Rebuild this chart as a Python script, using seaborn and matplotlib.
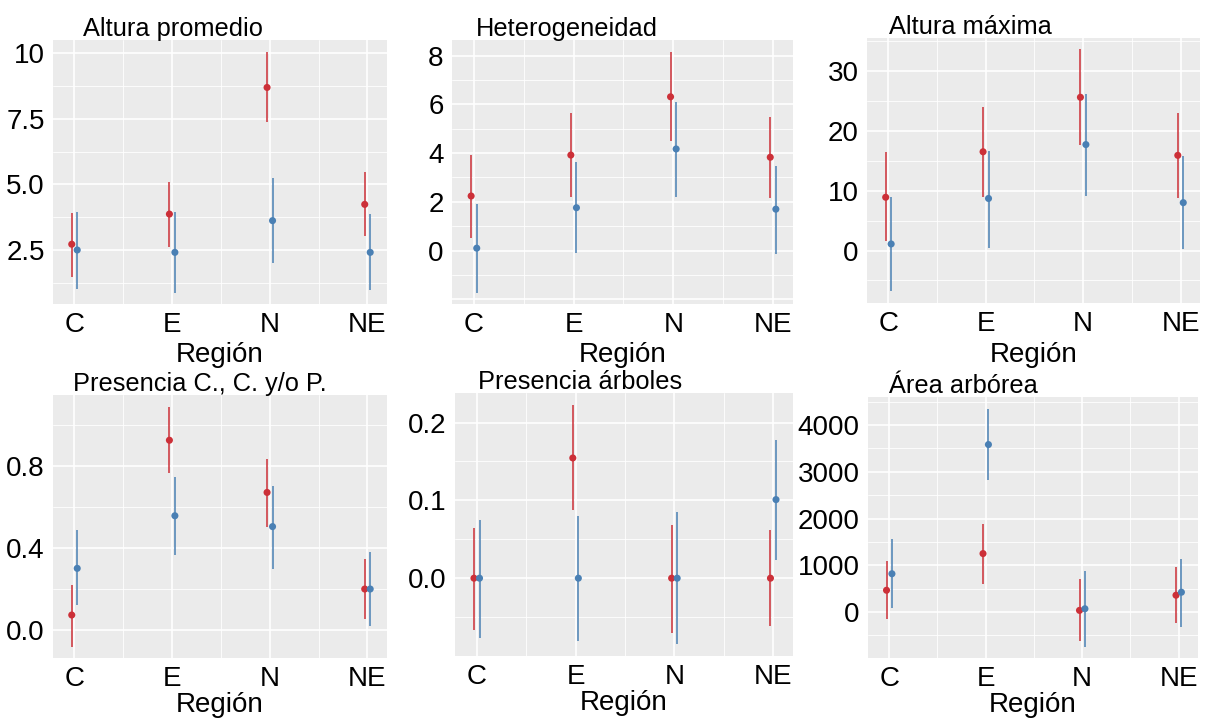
import numpy as np
import pandas as pd
import matplotlib
matplotlib.use('Agg')
import matplotlib.pyplot as plt
import seaborn as sns

# Categories
regions = ['C', 'E', 'N', 'NE']
groups = ['rojo', 'azul']

titles = ['Altura promedio', 'Heterogeneidad', 'Altura máxima',
          'Presencia C., C. y/o P.', 'Presencia árboles', 'Área arbórea']

# (mean, lower, upper) per region, for each panel and group
altura_prom_rojo = [(2.72, 1.48, 3.90), (3.87, 2.63, 5.11), (8.70, 7.37, 10.04), (4.24, 3.05, 5.47)]
altura_prom_azul = [(2.50, 1.01, 3.96), (2.41, 0.85, 3.96), (3.62, 1.99, 5.24), (2.41, 0.97, 3.88)]

hetero_rojo = [(2.24, 0.53, 3.92), (3.92, 2.21, 5.63), (6.31, 4.50, 8.13), (3.83, 2.15, 5.47)]
hetero_azul = [(0.10, -1.75, 1.91), (1.76, -0.11, 3.65), (4.17, 2.21, 6.11), (1.70, -0.14, 3.47)]

altura_max_rojo = [(8.9, 1.6, 16.4), (16.5, 8.9, 23.9), (25.6, 17.6, 33.6), (15.9, 8.7, 23.0)]
altura_max_azul = [(1.1, -6.8, 8.9), (8.7, 0.4, 16.6), (17.7, 9.1, 26.1), (8.0, 0.2, 15.8)]

pres_ccp_rojo = [(0.073, -0.081, 0.222), (0.927, 0.769, 1.087), (0.672, 0.502, 0.833), (0.200, 0.053, 0.348)]
pres_ccp_azul = [(0.301, 0.121, 0.486), (0.558, 0.367, 0.749), (0.505, 0.300, 0.704), (0.200, 0.021, 0.383)]

pres_arb_rojo = [(0.0, -0.066, 0.064), (0.1545, 0.087, 0.222), (0.0, -0.070, 0.069), (0.0, -0.062, 0.062)]
pres_arb_azul = [(0.0, -0.077, 0.075), (0.0, -0.081, 0.080), (0.0, -0.085, 0.085), (0.101, 0.024, 0.1775)]

area_arb_rojo = [(466, -156, 1082), (1251, 607, 1894), (35, -630, 713), (360, -227, 954)]
area_arb_azul = [(819, 91, 1555), (3584, 2816, 4348), (70, -757, 869), (424, -318, 1137)]

panel_data = [
    (altura_prom_rojo, altura_prom_azul),
    (hetero_rojo, hetero_azul),
    (altura_max_rojo, altura_max_azul),
    (pres_ccp_rojo, pres_ccp_azul),
    (pres_arb_rojo, pres_arb_azul),
    (area_arb_rojo, area_arb_azul),
]

# y axis setup per panel
y_limits = [(0.44, 10.51), (-2.19, 8.64), (-8.76, 35.5),
            (-0.137, 1.148), (-0.1, 0.238), (-984, 4602)]
y_ticks = [[2.5, 5.0, 7.5, 10], [-2, 0, 2, 4, 6, 8], [0, 10, 20, 30],
           [0.0, 0.4, 0.8], [0.0, 0.1, 0.2], [-1000, 0, 1000, 2000, 3000, 4000]]
y_ticklabels = [['2.5', '5.0', '7.5', '10'], ['', '0', '2', '4', '6', '8'], ['0', '10', '20', '30'],
                ['0.0', '0.4', '0.8'], ['0.0', '0.1', '0.2'], ['', '0', '1000', '2000', '3000', '4000']]

sns.set_theme(style='darkgrid')
plt.rcParams['font.family'] = ['Liberation Sans', 'DejaVu Sans']
plt.rcParams['text.color'] = 'black'
plt.rcParams['axes.labelcolor'] = 'black'

W, H = 1206, 721
fig = plt.figure(figsize=(W / 100, H / 100), dpi=100)
fig.patch.set_facecolor('white')

# panel boxes in pixels: left, right, top, bottom
boxes = [(53, 387, 40, 304), (452, 793, 40, 304), (867, 1200, 38, 303),
         (53, 387, 395, 658), (455, 793, 393, 656), (868, 1198, 397, 658)]
title_off = [30, 24, 22, 20, 23, 21]

palette = {'rojo': '#CC3038', 'azul': '#4A80B4'}
dodge = {'rojo': -0.028, 'azul': 0.028}

for i, (l, r, t, b) in enumerate(boxes):
    ax = fig.add_axes([l / W, 1 - b / H, (r - l) / W, (b - t) / H])
    rows = []
    for g, series in zip(groups, panel_data[i]):
        for k, (m, lo, hi) in enumerate(series):
            rows.append({'region': regions[k], 'grupo': g, 'x': k + dodge[g],
                         'media': m, 'lo': lo, 'hi': hi})
    df = pd.DataFrame(rows)

    for g in groups:
        sub = df[df['grupo'] == g]
        ax.vlines(sub['x'], sub['lo'], sub['hi'], color=palette[g], lw=1.1, zorder=3)
    sns.scatterplot(data=df, x='x', y='media', hue='grupo', palette=palette,
                    s=26, edgecolor='none', legend=False, ax=ax, zorder=4)

    ax.set_facecolor('#EBEBEB')
    ax.set_xlim(-0.22, 3.2)
    ax.set_xticks(range(len(regions)))
    ax.set_xticklabels(regions)
    ax.set_xticks([0.5, 1.5, 2.5], minor=True)
    ax.set_yticks(y_ticks[i])
    ax.set_yticklabels(y_ticklabels[i])
    step = y_ticks[i][-1] - y_ticks[i][-2]
    ax.set_yticks(np.arange(y_ticks[i][0] - step / 2, y_limits[i][1], step), minor=True)
    ax.set_ylim(*y_limits[i])
    ax.grid(True, which='major', color='white', lw=1.2)
    ax.grid(True, which='minor', color='white', lw=0.6)
    for s in ax.spines.values():
        s.set_visible(False)
    ax.tick_params(axis='both', which='major', labelsize=20, length=3, width=0.8,
                   color='#555555', pad=3, labelcolor='black')
    ax.tick_params(axis='both', which='minor', length=0)
    ax.set_xlabel('Región', fontsize=20, labelpad=3 if i < 3 else 0, color='black')
    ax.set_ylabel('')
    fig.text((l + title_off[i]) / W, 1 - (t - 4) / H, titles[i], fontsize=18.3,
             ha='left', va='baseline', color='black')

fig.savefig('out.png', dpi=100)
